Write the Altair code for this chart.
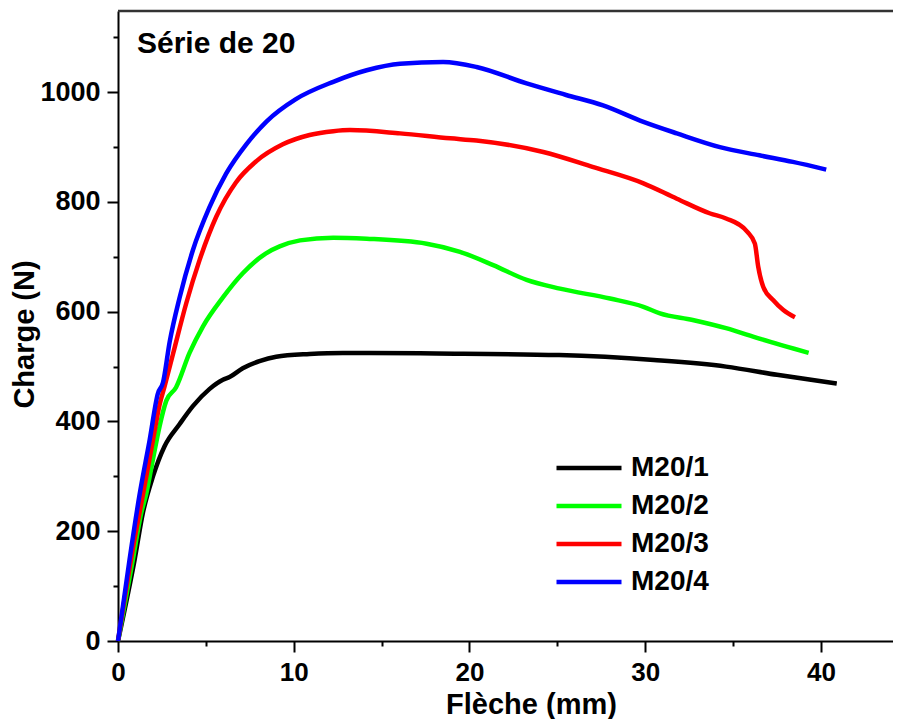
import altair as alt
import pandas as pd

# ---------------- data ----------------
SERIES = ["M20/1", "M20/2", "M20/3", "M20/4"]
COLORS = ["#000000", "#00ff00", "#ff0000", "#0000ff"]
SERIES_TITLE = "Série de 20"

x1 = [0, 0.95, 1.42, 1.99, 2.65, 3.5, 4.26, 5.2, 5.97, 6.35, 7.1, 8.05, 9.0,
      10.9, 12.8, 14.3, 18.1, 25.1, 30.5, 34.6, 37.5, 40.9]
y1 = [0, 149, 234, 300, 355, 395, 428, 459, 476, 481, 497, 510, 518,
      523, 525, 525, 524, 521, 512, 500, 485, 469]

x2 = [0, 0.8, 1.33, 1.6, 2.0, 2.37, 2.75, 3.3, 4.07, 4.83, 5.97, 7.1, 8.4,
      9.2, 10.36, 12.25, 14.15, 17.56, 19.46, 21.35, 23.25, 25.15, 28.0,
      29.9, 30.84, 32.7, 34.6, 36.5, 39.3]
y2 = [0, 140, 234, 267, 333, 392, 438, 462, 525, 573, 626, 670, 706,
      719, 730, 735, 733, 724, 709, 685, 658, 642, 624,
      609, 597, 585, 570, 551, 525]

x3 = [0, 0.85, 1.42, 1.99, 2.37, 2.65, 3.13, 3.88, 4.64, 5.59, 6.72, 7.86,
      9.38, 10.9, 12.25, 13.2, 16.05, 18.9, 20.4, 24.2, 27.0, 29.9, 31.8,
      33.7, 34.6, 35.8, 36.24, 36.43, 36.72, 37.29, 37.86, 38.52]
y3 = [0, 169, 267, 366, 431, 464, 523, 615, 694, 773, 836, 874,
      905, 922, 929, 931, 925, 916, 912, 891, 864, 834, 806,
      779, 770, 746, 724, 682, 645, 621, 603, 590]

x4 = [0, 0.66, 1.23, 1.8, 2.27, 2.56, 2.94, 3.5, 4.26, 5.2, 6.16, 7.3, 8.46,
      10.1, 12.25, 14.15, 16.05, 18.5, 20.4, 23.25, 25.5, 27.6, 29.9,
      31.8, 34.25, 36.5, 38.4, 40.3]
y4 = [0, 149, 267, 366, 451, 471, 545, 625, 712, 790, 852, 905, 947,
      987, 1019, 1040, 1052, 1055, 1046, 1016, 995, 976, 946,
      925, 900, 885, 873, 859]

X_TICKS = [0, 10, 20, 30, 40]
X_MINOR = [5, 15, 25, 35]
Y_TICKS = [0, 200, 400, 600, 800, 1000]
Y_MINOR = [100, 300, 500, 700, 900, 1100]

X_TITLE = "Flèche (mm)"
Y_TITLE = "Charge (N)"

# ---------------- build table ----------------
rows = []
for name, xs, ys in zip(SERIES, [x1, x2, x3, x4], [y1, y2, y3, y4]):
    for i, (a, b) in enumerate(zip(xs, ys)):
        rows.append({"serie": name, "fleche": a, "charge": b, "ord": i})
df = pd.DataFrame(rows)

FONT = "Liberation Sans"
W, H = 775, 630
xscale = alt.Scale(domain=[0, 44.1], nice=False, zero=False)
yscale = alt.Scale(domain=[0, 1148], nice=False)

common_axis = dict(grid=False, tickColor="black", tickWidth=2,
                   domainColor="black", domainWidth=2, format="d",
                   labelFont=FONT, labelFontWeight="bold",
                   labelColor="black", labelFlush=False,
                   titleFont=FONT, titleFontWeight="bold", titleColor="black")

lines = alt.Chart(df).mark_line(strokeWidth=4.5, interpolate="monotone").encode(
    x=alt.X("fleche:Q", scale=xscale,
            axis=alt.Axis(orient="bottom", values=X_TICKS, title=X_TITLE,
                          tickSize=11, labelPadding=7, labelFontSize=26,
                          titleFontSize=29, titleX=413, titleY=72,
                          titleBaseline="alphabetic", titleAnchor="middle",
                          **common_axis)),
    y=alt.Y("charge:Q", scale=yscale,
            axis=alt.Axis(orient="left", values=Y_TICKS, title=Y_TITLE,
                          tickSize=11, labelPadding=7, labelFontSize=27,
                          titleFontSize=29, titleX=-85, titleY=323,
                          titleAngle=270, titleBaseline="alphabetic",
                          **common_axis)),
    color=alt.Color("serie:N",
                    scale=alt.Scale(domain=SERIES, range=COLORS),
                    legend=alt.Legend(orient="none", legendX=436, legendY=442,
                                      title=None, padding=0,
                                      labelFont=FONT, labelFontSize=28,
                                      labelFontWeight="bold", labelColor="black",
                                      symbolType="stroke", symbolSize=4225,
                                      symbolStrokeWidth=4.5, labelOffset=7,
                                      rowPadding=8, clipHeight=30)),
    order="ord:Q",
)

minor = alt.Chart(df).mark_point(opacity=0).encode(
    x=alt.X("fleche:Q", scale=xscale,
            axis=alt.Axis(orient="bottom", values=X_MINOR, labels=False,
                          title=None, domain=False, tickSize=5, tickWidth=2,
                          tickColor="black", grid=False)),
    y=alt.Y("charge:Q", scale=yscale,
            axis=alt.Axis(orient="left", values=Y_MINOR, labels=False,
                          title=None, domain=False, tickSize=5, tickWidth=2,
                          tickColor="black", grid=False)),
)

top_rule = alt.Chart(pd.DataFrame({"a": [0]})).mark_rule(
    color="#333333", strokeWidth=2.5).encode(
    x=alt.value(0), x2=alt.value(W), y=alt.value(0))

label = alt.Chart(pd.DataFrame({"t": [SERIES_TITLE]})).mark_text(
    align="left", baseline="alphabetic", font=FONT, fontSize=30,
    fontWeight="bold", color="black").encode(
    x=alt.value(19), y=alt.value(42), text="t:N")

chart = alt.layer(minor, lines, top_rule, label).resolve_axis(
    x="independent", y="independent").properties(
    width=W, height=H,
    autosize=alt.AutoSizeParams(type="none"),
    padding={"left": 110, "top": 3, "right": 0, "bottom": 78},
    background="white",
).configure_view(stroke=None)

chart.save("out.html", embed_options={"renderer": "svg", "actions": False})
